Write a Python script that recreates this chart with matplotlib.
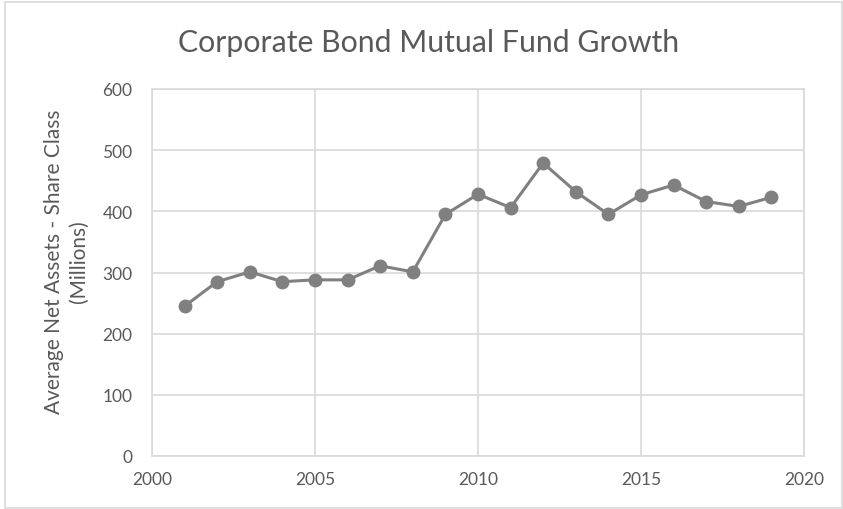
import matplotlib
matplotlib.use("Agg")
import matplotlib.pyplot as plt

years = [2001, 2002, 2003, 2004, 2005, 2006, 2007, 2008, 2009, 2010,
         2011, 2012, 2013, 2014, 2015, 2016, 2017, 2018, 2019]
net_assets = [245, 285, 301, 285, 288, 288, 311, 301, 395, 428,
              406, 479, 432, 395, 427, 443, 416, 408, 423]
x_ticks = [2000, 2005, 2010, 2015, 2020]
y_ticks = [0, 100, 200, 300, 400, 500, 600]

title = "Corporate Bond Mutual Fund Growth"
ylabel = "Average Net Assets - Share Class\n(Millions)"

plt.rcParams['font.family'] = ['Lato', 'DejaVu Sans']

fig = plt.figure(figsize=(8.43, 5.10), dpi=100)
ax = fig.add_axes([152/843, 1 - 457/510, (804 - 152)/843, (457 - 90)/510])

ax.plot(years, net_assets, color='#808080', linewidth=2.2, marker='o',
        markersize=9, markerfacecolor='#808080', markeredgecolor='#808080',
        zorder=3)

ax.set_xlim(2000, 2020)
ax.set_ylim(0, 600)
ax.set_xticks(x_ticks)
ax.set_yticks(y_ticks)
ax.grid(True, color='#d9d9d9', linewidth=1.2)
ax.set_axisbelow(True)
for s in ax.spines.values():
    s.set_color('#d9d9d9')
    s.set_linewidth(1.2)
ax.tick_params(length=0, colors='#595959', labelsize=12.5)
ax.tick_params(axis='y', pad=14)
ax.tick_params(axis='x', pad=11)

fig.text(66.5/843, 1 - 262/510, ylabel, rotation=90, ha='center',
         va='center', multialignment='center', fontsize=15,
         color='#595959', linespacing=1.3)
fig.text(429/843, 1 - 52/510, title, ha='center', va='baseline',
         fontsize=21.8, color='#595959')

# outer chart border
fig.patches.append(plt.Rectangle((5/843, 1/510), 1 - 6/843, 1 - 4/510,
                                 transform=fig.transFigure, fill=False,
                                 edgecolor='#d9d9d9', linewidth=1.2))

fig.savefig('out.png', dpi=100)
